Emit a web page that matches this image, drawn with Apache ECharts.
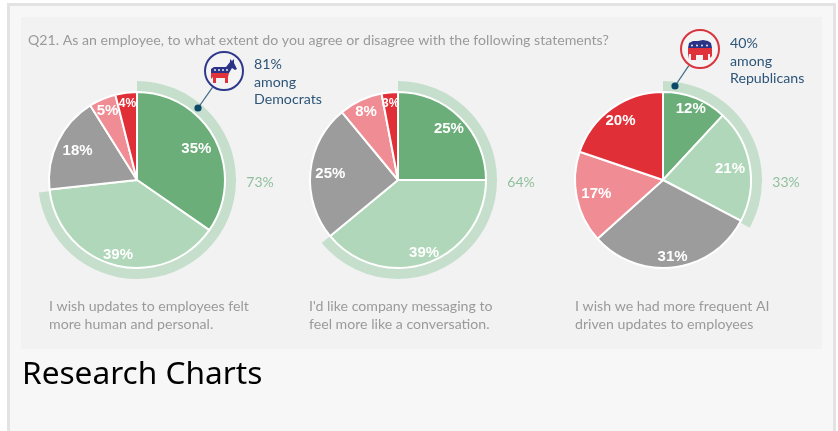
<!DOCTYPE html>
<html>
<head>
<meta charset="utf-8">
<title>Research Charts</title>
<script src="https://cdn.jsdelivr.net/npm/echarts@6/dist/echarts.min.js"></script>
<style>
  html, body { margin: 0; padding: 0; background: #fff; }
  #chart { width: 838px; height: 431px; }
</style>
</head>
<body>
<div id="chart"></div>
<script>
const sliceNames = ["Strongly agree", "Somewhat agree", "Neutral", "Somewhat disagree", "Strongly disagree"];
const sliceColors = ["#6bae7a", "#b0d7b9", "#9c9c9c", "#f08c94", "#e12f38"];

const humanValues = [35, 39, 18, 5, 4];
const conversationValues = [25, 39, 25, 8, 3];
const frequentValues = [12, 21, 31, 17, 20];

const agreeTotals = [73, 64, 33];
const questionText = "Q21. As an employee, to what extent do you agree or disagree with the following statements?";
const captions = [
  "I wish updates to employees felt\nmore human and personal.",
  "I'd like company messaging to\nfeel more like a conversation.",
  "I wish we had more frequent AI\ndriven updates to employees"
];

const pieValues = [humanValues, conversationValues, frequentValues];
const pieCenters = [[137, 180], [398, 180], [663, 180]];
const captionX = [49, 309, 575];
const totalLabelX = [260, 521, 786];
const labelRadii = [
  [64, 74, 63, 72, 74],
  [69, 74, 65, 72, 74],
  [73, 65, 74, 65, 70]
];

const PIE_R = 88;
const bodyFont = "Lato";

function sliceOffset(pieIndex, dataIndex) {
  const values = pieValues[pieIndex];
  const total = values.reduce((a, b) => a + b, 0);
  const before = values.slice(0, dataIndex).reduce((a, b) => a + b, 0);
  const angle = ((before + values[dataIndex] / 2) / total) * Math.PI * 2;
  const shift = labelRadii[pieIndex][dataIndex] - PIE_R / 2;
  return { dx: shift * Math.sin(angle), dy: -shift * Math.cos(angle) };
}

const series = [];
pieValues.forEach((values, i) => {
  series.push({
    type: "pie",
    silent: true,
    z: 1,
    center: pieCenters[i],
    radius: [PIE_R - 1, 99],
    startAngle: 90,
    label: { show: false },
    labelLine: { show: false },
    data: [
      { value: agreeTotals[i], name: "Agree", itemStyle: { color: "#c5dfcc" } },
      { value: 100 - agreeTotals[i], name: "Rest", itemStyle: { color: "transparent" } }
    ]
  });
  const pieIndex = i;
  series.push({
    type: "pie",
    silent: true,
    z: 2,
    center: pieCenters[i],
    radius: [0, PIE_R],
    startAngle: 90,
    itemStyle: { borderColor: "#ffffff", borderWidth: 2 },
    labelLine: { show: false },
    label: {
      show: true,
      position: "inside",
      color: "#ffffff",
      fontFamily: "Liberation Sans",
      fontWeight: "bold",
      fontSize: 15,
      formatter: "{c}%"
    },
    labelLayout: (params) => sliceOffset(pieIndex, params.dataIndex),
    data: values.map((v, k) => ({
      value: v,
      name: sliceNames[k],
      itemStyle: { color: sliceColors[k] },
      label: v < 5 ? { fontSize: 12 } : {}
    }))
  });
});

function textEl(x, y, text, color, size, extra) {
  return {
    type: "text",
    z: 10,
    x: x,
    y: y,
    style: Object.assign({
      text: text,
      fill: color,
      font: size + "px " + bodyFont,
      lineHeight: 17.5,
      textVerticalAlign: "middle"
    }, extra || {})
  };
}

function callout(cx, cy, dotX, dotY, color) {
  const dist = Math.hypot(dotX - cx, dotY - cy);
  return [
    { type: "line", z: 10, shape: { x1: cx + (dotX - cx) * 20 / dist, y1: cy + (dotY - cy) * 20 / dist, x2: dotX, y2: dotY }, style: { stroke: "#3d6a87", lineWidth: 1.2 } },
    { type: "circle", z: 11, shape: { cx: dotX, cy: dotY, r: 3.6 }, style: { fill: "#0c4a68" } },
    { type: "circle", z: 10, shape: { cx: cx, cy: cy, r: 19 }, style: { fill: "#f4f4f4", stroke: color, lineWidth: 2 } }
  ];
}

// party icons, roughly traced
const iconShapes = [
  { fill: "#2b3386", points: [[211, 69], [214, 67], [226, 67], [230, 62], [230, 59], [232, 61], [234, 59], [234, 63], [237, 69], [235, 70], [232, 68], [229, 73], [211, 73]] },
  { fill: "#e0323b", points: [[211, 73], [229, 73], [228, 77], [228, 83], [225, 83], [225, 78], [216, 78], [216, 83], [213, 83], [213, 77], [211, 79]] },
  { fill: "#2b3386", points: [[688, 48], [689, 43], [693, 41], [698, 41], [703, 40], [708, 41], [711, 43], [712, 48]] },
  { fill: "#e0323b", points: [[688, 48], [712, 48], [712, 56], [710, 58], [710, 54], [708, 54], [708, 60], [703, 60], [703, 55], [696, 55], [696, 60], [691, 60], [691, 54], [689, 54], [688, 59]] }
];
const iconStars = [[215, 70], [219, 70], [223, 70], [227, 70], [692, 45.5], [697, 45.5], [702, 45.5], [707, 45.5]];

const graphicEls = [
  { type: "rect", z: 0, shape: { x: 7, y: 3, width: 829, height: 428 }, style: { fill: "#e3e3e3" } },
  { type: "rect", z: 0, shape: { x: 10, y: 6, width: 823, height: 425 }, style: { fill: "#f7f7f7" } },
  { type: "rect", z: 0, shape: { x: 21, y: 17, width: 801, height: 332 }, style: { fill: "#f2f2f2" } },
  textEl(28, 40, questionText, "#9a9a9a", 14.15),
  textEl(22, 375, "Research Charts", "#000000", 32, { font: "31.6px 'Noto Sans'" }),
  ...callout(224, 71, 198, 108, "#2f3a8c"),
  ...callout(700, 49, 675, 86, "#d8353e"),
  textEl(254, 82, "81%\namong\nDemocrats", "#2c5578", 14.2),
  textEl(730, 61, "40%\namong\nRepublicans", "#2c5578", 14.2)
];

iconShapes.forEach((ic) => {
  graphicEls.push({ type: "polygon", z: 12, shape: { points: ic.points }, style: { fill: ic.fill } });
});
iconStars.forEach((p) => {
  graphicEls.push({ type: "circle", z: 13, shape: { cx: p[0], cy: p[1], r: 0.9 }, style: { fill: "#ffffff" } });
});

captions.forEach((c, i) => {
  graphicEls.push(textEl(captionX[i], 315.5, c, "#9a9a9a", 14.15));
  graphicEls.push(textEl(totalLabelX[i], 182, agreeTotals[i] + "%", "#8fbf9c", 14, { textAlign: "center" }));
});

const chart = echarts.init(document.getElementById("chart"), null, { renderer: "canvas" });
chart.setOption({
  animation: false,
  graphic: { elements: graphicEls },
  series: series
});
</script>
</body>
</html>
